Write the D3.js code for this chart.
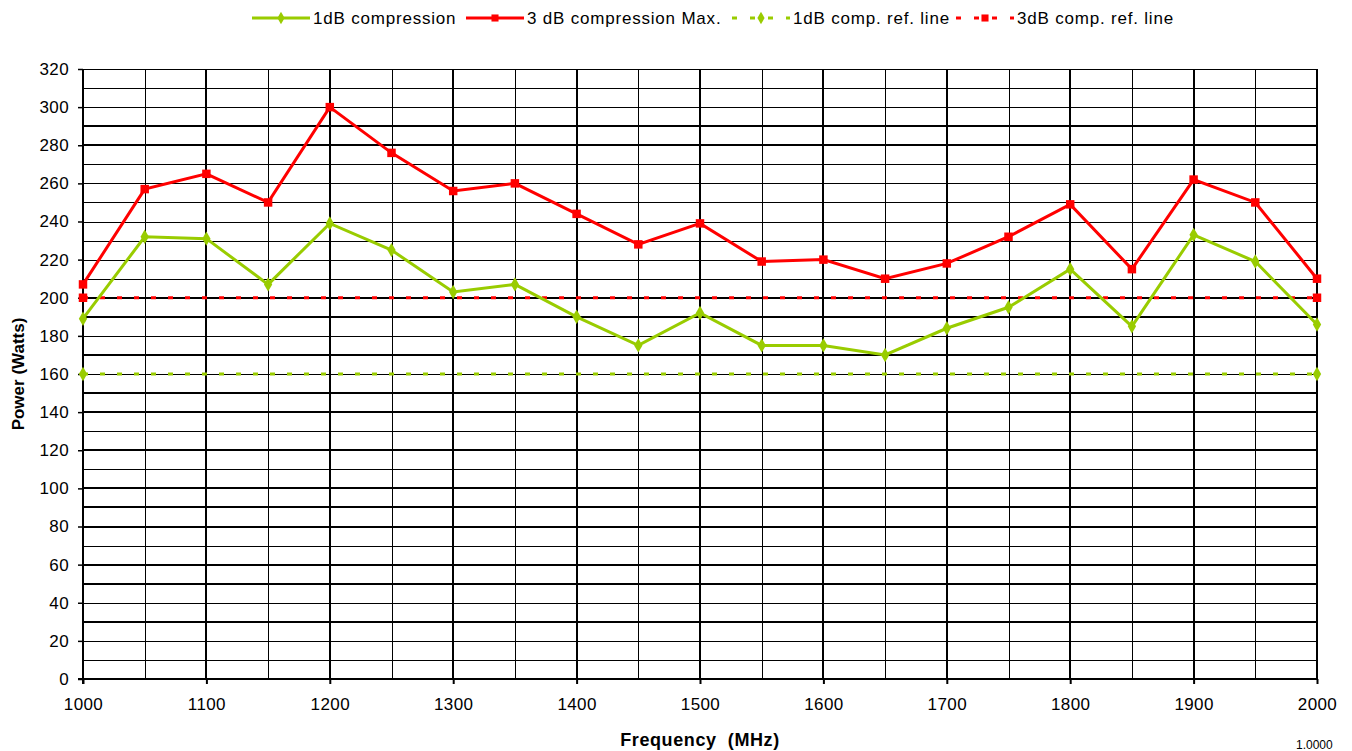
<!DOCTYPE html>
<html>
<head>
<meta charset="utf-8">
<script src="https://cdn.jsdelivr.net/npm/d3@7"></script>
<style>
  html, body { margin: 0; padding: 0; background: #fff; }
  svg { display: block; }
  text { font-family: "Liberation Sans", Arial, sans-serif; fill: #000; }
</style>
</head>
<body>
<svg id="chart" width="1352" height="751"></svg>
<script>
// ---- data ----
const frequencies = [1000,1050,1100,1150,1200,1250,1300,1350,1400,1450,1500,1550,1600,1650,1700,1750,1800,1850,1900,1950,2000];
const comp1dB = [189,232,231,207,239,225,203,207,190,175,192,175,175,170,184,195,215,185,233,219,186];
const comp3dBMax = [207,257,265,250,300,276,256,260,244,228,239,219,220,210,218,232,249,215,262,250,210];
const refFrequencies = [1000,2000];
const ref1dB = [160,160];
const ref3dB = [200,200];
const yTickValues = [0,20,40,60,80,100,120,140,160,180,200,220,240,260,280,300,320];
const xTickValues = [1000,1100,1200,1300,1400,1500,1600,1700,1800,1900,2000];
const legendLabels = ["1dB compression","3 dB compression Max.","1dB comp. ref. line","3dB comp. ref. line"];
const xTitle = "Frequency  (MHz)";
const yTitle = "Power (Watts)";
const footerText = "1.0000";

// ---- style ----
const GREEN = "#99cc00", RED = "#ff0000";
const heavyRows = new Set([0,30,50,60,80,90,100,120,140,150,170,190,200,280,290]);

const svg = d3.select("#chart");
const x = d3.scaleLinear().domain([1000,2000]).range([83,1317]);
const y = d3.scaleLinear().domain([0,320]).range([679,69]);

// grid: horizontal every 10
const grid = svg.append("g");
d3.range(0,321,10).forEach(v => {
  const heavy = heavyRows.has(v);
  const yy = heavy ? Math.round(y(v)) : Math.round(y(v)) + 0.5;
  grid.append("line").attr("x1",x(1000)).attr("x2",x(2000)).attr("y1",yy).attr("y2",yy)
    .attr("stroke","#000").attr("stroke-width", heavy ? 2 : 1);
});
// vertical every 50
d3.range(1000,2001,50).forEach(f => {
  const major = (f % 100 === 0);
  const xx = major ? Math.round(x(f)) : Math.round(x(f)) + 0.5;
  grid.append("line").attr("x1",xx).attr("x2",xx).attr("y1",y(320)).attr("y2",y(0))
    .attr("stroke","#000").attr("stroke-width", major ? 2 : 1);
});

// axes
const yAxis = d3.axisLeft(y).tickValues(yTickValues).tickSize(5).tickPadding(9).tickFormat(d3.format("d"));
const gy = svg.append("g").attr("transform",`translate(${Math.round(x(1000))},0)`).call(yAxis);
gy.select(".domain").attr("stroke","#000").attr("stroke-width",2).attr("d",`M0,${y(320)}V${y(0)+5}`);
gy.selectAll(".tick line").attr("stroke","#000").attr("stroke-width",1.5);
gy.selectAll(".tick text").attr("font-size",17).attr("letter-spacing","0.4px")
  .attr("font-family","Liberation Sans, Arial, sans-serif").attr("fill","#000");

const xAxis = d3.axisBottom(x).tickValues(xTickValues).tickSize(5).tickPadding(14).tickFormat(d3.format("d"));
const gx = svg.append("g").attr("transform",`translate(0,${Math.round(y(0))})`).call(xAxis);
gx.select(".domain").attr("stroke","#000").attr("stroke-width",2).attr("d",`M${x(1000)-5},0H${x(2000)}`);
gx.selectAll(".tick line").attr("stroke","#000").attr("stroke-width",2);
gx.selectAll(".tick text").attr("font-size",17).attr("letter-spacing","0.4px")
  .attr("font-family","Liberation Sans, Arial, sans-serif").attr("fill","#000");

// titles
svg.append("text").attr("x",(x(1000)+x(2000))/2).attr("y",746).attr("text-anchor","middle")
  .attr("font-size",18).attr("font-weight","bold").attr("letter-spacing","0.6px")
  .style("white-space","pre").text(xTitle);
svg.append("text").attr("transform",`translate(24,${(y(0)+y(320))/2}) rotate(-90)`).attr("text-anchor","middle")
  .attr("font-size",17).attr("font-weight","bold").text(yTitle);

// series
const line = d3.line().x(d => x(d[0])).y(d => y(d[1]));
const diamond = d3.symbol().type(d3.symbolDiamond).size(60);
const square = d3.symbol().type(d3.symbolSquare).size(72);

function drawSeries(fs, vals, color, dashed, sym) {
  const pts = fs.map((f,i) => [f, vals[i]]);
  svg.append("path").datum(pts).attr("d",line).attr("fill","none").attr("stroke",color)
    .attr("stroke-width",3).attr("stroke-dasharray", dashed ? "5,12" : null);
  svg.append("g").selectAll("path").data(pts).join("path")
    .attr("transform", d => `translate(${x(d[0])},${y(d[1])})`).attr("d",sym).attr("fill",color);
}
drawSeries(refFrequencies, ref1dB, GREEN, true, diamond);
drawSeries(refFrequencies, ref3dB, RED, true, square);
drawSeries(frequencies, comp1dB, GREEN, false, diamond);
drawSeries(frequencies, comp3dBMax, RED, false, square);

// legend
const legendX = [252, 466, 732, 956];
const legendColor = [GREEN, RED, GREEN, RED];
const legendDash = [false, false, true, true];
const legendSym = [d3.symbol().type(d3.symbolDiamond).size(45), d3.symbol().type(d3.symbolSquare).size(50),
                   d3.symbol().type(d3.symbolDiamond).size(45), d3.symbol().type(d3.symbolSquare).size(50)];
const lg = svg.append("g");
legendLabels.forEach((lab,i) => {
  const x0 = legendX[i], ly = 18;
  lg.append("line").attr("x1",x0).attr("x2",x0+58).attr("y1",ly).attr("y2",ly)
    .attr("stroke",legendColor[i]).attr("stroke-width",3).attr("stroke-dasharray", legendDash[i] ? "5,13" : null);
  lg.append("path").attr("transform",`translate(${x0+29},${ly})`).attr("d",legendSym[i]).attr("fill",legendColor[i]);
  lg.append("text").attr("x",x0+61).attr("y",24).attr("font-size",17).attr("letter-spacing","0.8px").text(lab);
});

// footer text (partly hidden in the reference, kept visible here)
svg.append("text").attr("x",1296).attr("y",749).attr("font-size",12).text(footerText);
</script>
</body>
</html>
